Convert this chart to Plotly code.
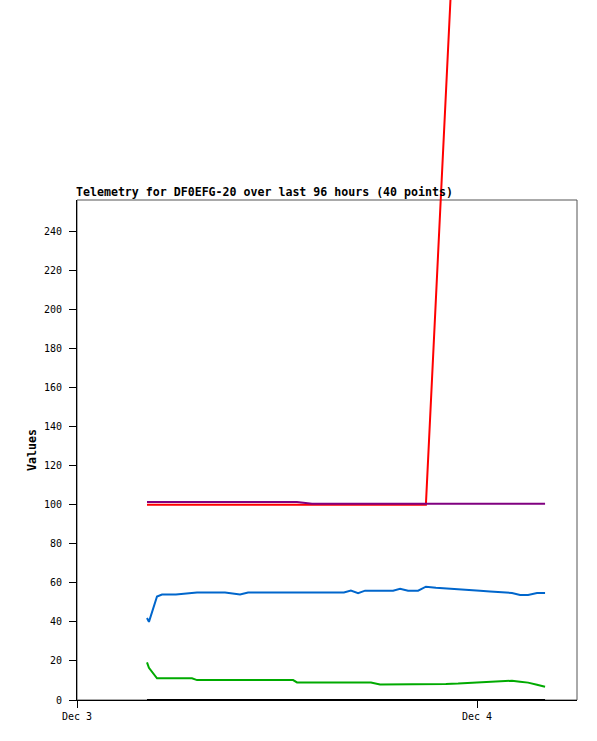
"""
Telemetry chart for DF0EFG-20 — 40 points, last 96 hours.
"""
import plotly.graph_objects as go

times = [
    "2023-12-03 04:12", "2023-12-03 04:19", "2023-12-03 04:48", "2023-12-03 05:06",
    "2023-12-03 05:56", "2023-12-03 06:54", "2023-12-03 07:12", "2023-12-03 07:59",
    "2023-12-03 08:53", "2023-12-03 09:47", "2023-12-03 10:16", "2023-12-03 11:06",
    "2023-12-03 12:04", "2023-12-03 12:58", "2023-12-03 13:12", "2023-12-03 14:06",
    "2023-12-03 15:04", "2023-12-03 16:01", "2023-12-03 16:26", "2023-12-03 16:52",
    "2023-12-03 17:17", "2023-12-03 17:38", "2023-12-03 18:11", "2023-12-03 18:58",
    "2023-12-03 19:23", "2023-12-03 19:52", "2023-12-03 20:28", "2023-12-03 20:56",
    "2023-12-03 21:32", "2023-12-03 22:08", "2023-12-03 22:52", "2023-12-03 23:35",
    "2023-12-04 00:11", "2023-12-04 00:47", "2023-12-04 01:19", "2023-12-04 02:06",
    "2023-12-04 02:35", "2023-12-04 03:04", "2023-12-04 03:36", "2023-12-04 04:05",
]

# Kanal degerleri
red_vals = [100] * 28 + [None, None, 439] + [None] * 9
purple_vals = [101.4] * 15 + [100.5] * 25
blue_vals = [
    42, 40, 53, 54, 54, 55, 55, 55, 55, 54,
    55, 55, 55, 55, 55, 55, 55, 55, 56, 54.7,
    56, 56, 56, 56, 57, 56, 56, 58, 57.5, 57.2,
    56.8, 56.3, 55.9, 55.5, 55.1, 54.8, 53.8, 53.8, 54.8, 54.8,
]
green_vals = [
    19.3, 16.5, 11.1, 11.1, 11.1, 11.1, 10.2, 10.2, 10.2, 10.2,
    10.2, 10.2, 10.2, 10.2, 9.0, 9.0, 9.0, 9.0, 9.0, 9.0,
    9.0, 9.0, 7.9, 7.9, 7.9, 7.9, 7.9, 7.9, 7.9, 8.2,
    8.4, 8.7, 8.9, 9.2, 9.4, 9.9, 9.4, 8.9, 7.8, 6.8,
]
black_vals = [0] * 40

# (degerler, renk, eksen)  — kirmizi cizgi kutunun disina tastigi icin
# cizgiler tam-sayfa x2/y2 ekseninde
series = [
    (black_vals, "#000000", "x", "y"),
    (red_vals, "#FF0000", "x2", "y2"),
    (purple_vals, "#800080", "x2", "y2"),
    (blue_vals, "#0066CC", "x2", "y2"),
    (green_vals, "#00AA00", "x2", "y2"),
]

x_range = ["2023-12-03 00:00", "2023-12-04 06:00"]
y_max = 256
W, H = 597, 741
M_L, M_R, M_T, M_B = 77, 20, 0, 41
paper_h = H - M_T - M_B
plot_frac = 500 / paper_h

MONO = "DejaVu Sans Mono"

fig = go.Figure()

for vals, color, xa, ya in series:
    fig.add_trace(go.Scatter(
        x=times, y=vals,
        mode="lines",
        line=dict(color=color, width=2),
        connectgaps=True,
        xaxis=xa, yaxis=ya,
        cliponaxis=False,
        showlegend=False,
        hoverinfo="skip",
    ))

fig.update_layout(
    width=W, height=H,
    margin=dict(l=M_L, r=M_R, t=M_T, b=M_B, pad=0),
    paper_bgcolor="white", plot_bgcolor="rgba(0,0,0,0)",
    font=dict(family=MONO, size=10, color="black"),
    showlegend=False,
    xaxis=dict(
        domain=[0, 1], range=x_range, type="date",
        tick0="2023-12-03", dtick=86400000, tickformat="%b %-d",
        ticks="outside", ticklen=7, tickcolor="black", tickwidth=1,
        showline=True, linecolor="black", linewidth=1,
        showgrid=False, zeroline=False,
        tickfont=dict(family=MONO, size=10, color="black"),
        anchor="y",
    ),
    yaxis=dict(
        domain=[0, plot_frac], range=[0, y_max],
        tickvals=list(range(0, 241, 20)),
        ticks="outside", ticklen=7, tickcolor="black", tickwidth=1,
        showline=True, linecolor="black", linewidth=1,
        showgrid=False, zeroline=False,
        tickfont=dict(family=MONO, size=10, color="black"),
        ticklabelstandoff=5,
        anchor="x",
    ),
    xaxis2=dict(
        domain=[0, 1], range=x_range, type="date",
        visible=False, anchor="y2",
    ),
    yaxis2=dict(
        domain=[0, 1], range=[0, y_max / plot_frac],
        visible=False, anchor="x2",
    ),
    shapes=[dict(
        type="rect", xref="x domain", yref="y domain",
        x0=0, x1=1, y0=0, y1=1,
        line=dict(color="#555555", width=1), layer="below",
    )],
    annotations=[
        dict(
            text="<b>Telemetry for DF0EFG-20 over last 96 hours (40 points)</b>",
            xref="paper", yref="paper", x=0, y=plot_frac,
            xanchor="left", yanchor="bottom", showarrow=False,
            xshift=-3, yshift=-1,
            font=dict(family=MONO, size=11.6, color="black"),
        ),
        dict(
            text="<b>Values</b>", textangle=-90,
            xref="paper", yref="paper",
            x=(32 - M_L) / (W - M_L - M_R), y=(H - M_B - 450) / paper_h,
            xanchor="center", yanchor="middle", showarrow=False,
            font=dict(family=MONO, size=11.6, color="black"),
        ),
    ],
)

fig.write_html(
    "out.html",
    config={"displayModeBar": False},
    post_script="document.body.style.margin='0';",
)
